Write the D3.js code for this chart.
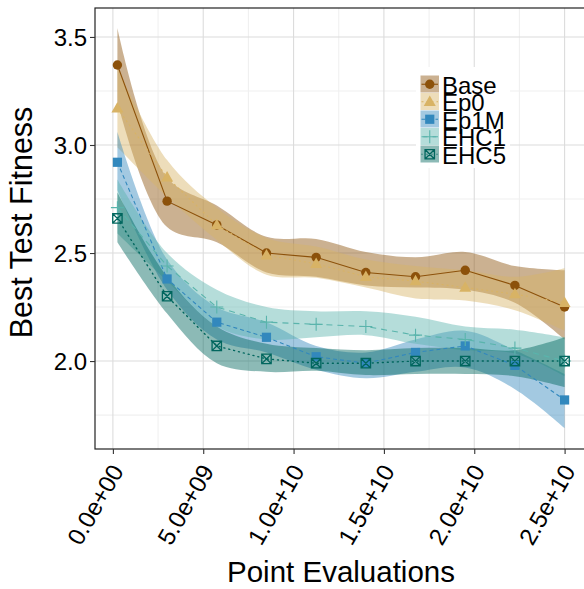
<!DOCTYPE html>
<html>
<head>
<meta charset="utf-8">
<script src="https://cdn.jsdelivr.net/npm/d3@7"></script>
<style>
  html, body { margin: 0; padding: 0; background: #fff; }
  svg { display: block; font-family: "Liberation Sans", Arial, Helvetica, sans-serif; }
</style>
</head>
<body>
<svg id="chart" width="584" height="589"></svg>
<script>
// Point evaluations at which the best test fitness was recorded
const evals = [0.25e9, 3.0e9, 5.75e9, 8.5e9, 11.25e9, 14.0e9, 16.75e9, 19.5e9, 22.25e9, 25.0e9];

// Mean best test fitness per configuration
const baseMean = [3.37, 2.74, 2.63, 2.50, 2.48, 2.41, 2.39, 2.42, 2.35, 2.25];
const ep0Mean  = [3.17, 2.85, 2.63, 2.49, 2.45, 2.39, 2.37, 2.34, 2.31, 2.27];
const ep1mMean = [2.92, 2.38, 2.18, 2.11, 2.02, 1.99, 2.04, 2.07, 1.98, 1.82];
const ehc1Mean = [2.71, 2.44, 2.25, 2.18, 2.17, 2.16, 2.12, 2.10, 2.06, 2.00];
const ehc5Mean = [2.66, 2.30, 2.07, 2.01, 1.99, 1.99, 2.00, 2.00, 2.00, 2.00];

// Confidence band bounds per configuration
const baseLo = [3.20, 2.62, 2.55, 2.41, 2.39, 2.35, 2.34, 2.33, 2.27, 2.10];
const baseHi = [3.54, 2.85, 2.72, 2.575, 2.565, 2.505, 2.48, 2.505, 2.44, 2.42];
const ep0Lo  = [2.99, 2.76, 2.56, 2.40, 2.385, 2.34, 2.29, 2.28, 2.235, 2.14];
const ep0Hi  = [3.36, 2.93, 2.71, 2.57, 2.53, 2.47, 2.44, 2.42, 2.39, 2.43];
const ep1mLo = [2.79, 2.33, 2.10, 2.04, 1.96, 1.92, 1.95, 1.97, 1.87, 1.69];
const ep1mHi = [3.06, 2.47, 2.25, 2.18, 2.07, 2.04, 2.10, 2.14, 2.05, 1.94];
const ehc1Lo = [2.59, 2.37, 2.16, 2.10, 2.11, 2.12, 2.08, 2.05, 2.035, 1.93];
const ehc1Hi = [2.84, 2.50, 2.33, 2.25, 2.23, 2.23, 2.205, 2.16, 2.145, 2.11];
const ehc5Lo = [2.55, 2.22, 1.99, 1.95, 1.955, 1.935, 1.94, 1.94, 1.93, 1.88];
const ehc5Hi = [2.78, 2.39, 2.16, 2.08, 2.06, 2.05, 2.06, 2.06, 2.05, 2.11];

const seriesNames = ["Base", "Ep0", "Ep1M", "EHC1", "EHC5"];
const seriesColors = ["#8c510a", "#d8b365", "#3288bd", "#5ab4ac", "#01665e"];

const xTicks = [0, 5e9, 1e10, 1.5e10, 2e10, 2.5e10];
const xTickLabels = ["0.0e+00", "5.0e+09", "1.0e+10", "1.5e+10", "2.0e+10", "2.5e+10"];
const yTicks = [2.0, 2.5, 3.0, 3.5];
const yTickLabels = ["2.0", "2.5", "3.0", "3.5"];

const series = [
  { name: seriesNames[0], color: seriesColors[0], mean: baseMean, lo: baseLo, hi: baseHi, shape: "circle",   dash: null },
  { name: seriesNames[1], color: seriesColors[1], mean: ep0Mean,  lo: ep0Lo,  hi: ep0Hi,  shape: "triangle", dash: "2,3" },
  { name: seriesNames[2], color: seriesColors[2], mean: ep1mMean, lo: ep1mLo, hi: ep1mHi, shape: "square",   dash: "4,3" },
  { name: seriesNames[3], color: seriesColors[3], mean: ehc1Mean, lo: ehc1Lo, hi: ehc1Hi, shape: "plus",     dash: "6,5" },
  { name: seriesNames[4], color: seriesColors[4], mean: ehc5Mean, lo: ehc5Lo, hi: ehc5Hi, shape: "boxx",     dash: "1,4" }
];

const svg = d3.select("#chart");
const panel = { left: 95, top: 8, right: 587, bottom: 449 };

const x = d3.scaleLinear().domain([-0.99e9, 26.24e9]).range([panel.left, panel.right]);
const y = d3.scaleLinear().domain([1.593, 3.634]).range([panel.bottom, panel.top]);

// Clip region for the plotting panel
svg.append("defs").append("clipPath").attr("id", "panelClip")
  .append("rect")
  .attr("x", panel.left).attr("y", panel.top)
  .attr("width", panel.right - panel.left).attr("height", panel.bottom - panel.top);

// Gridlines
const grid = svg.append("g");
const xMinor = [2.5e9, 7.5e9, 1.25e10, 1.75e10, 2.25e10];
const yMinor = [1.75, 2.25, 2.75, 3.25];
grid.selectAll(".xminor").data(xMinor).enter().append("line")
  .attr("x1", d => x(d)).attr("x2", d => x(d))
  .attr("y1", panel.top).attr("y2", panel.bottom)
  .attr("stroke", "#f0f0f0").attr("stroke-width", 1.1);
grid.selectAll(".yminor").data(yMinor).enter().append("line")
  .attr("y1", d => y(d)).attr("y2", d => y(d))
  .attr("x1", panel.left).attr("x2", panel.right)
  .attr("stroke", "#f0f0f0").attr("stroke-width", 1.1);
grid.selectAll(".xmajor").data(xTicks).enter().append("line")
  .attr("x1", d => x(d)).attr("x2", d => x(d))
  .attr("y1", panel.top).attr("y2", panel.bottom)
  .attr("stroke", "#dcdcdc").attr("stroke-width", 1.1);
grid.selectAll(".ymajor").data(yTicks).enter().append("line")
  .attr("y1", d => y(d)).attr("y2", d => y(d))
  .attr("x1", panel.left).attr("x2", panel.right)
  .attr("stroke", "#dcdcdc").attr("stroke-width", 1.1);

const plot = svg.append("g").attr("clip-path", "url(#panelClip)");

// Confidence bands
const band = d3.area()
  .x(d => x(d.x)).y0(d => y(d.lo)).y1(d => y(d.hi))
  .curve(d3.curveCatmullRom.alpha(0.5));
series.forEach(s => {
  const pts = evals.map((e, i) => ({ x: e, lo: s.lo[i], hi: s.hi[i] }));
  plot.append("path").datum(pts)
    .attr("d", band)
    .attr("fill", s.color).attr("fill-opacity", 0.45);
});

// Mean lines
const meanLine = d3.line().x(d => x(d.x)).y(d => y(d.y));
series.forEach(s => {
  const pts = evals.map((e, i) => ({ x: e, y: s.mean[i] }));
  plot.append("path").datum(pts)
    .attr("d", meanLine)
    .attr("fill", "none")
    .attr("stroke", s.color)
    .attr("stroke-width", s.shape === "boxx" ? 1.4 : 1.1)
    .attr("stroke-linecap", s.shape === "boxx" ? "round" : "butt")
    .attr("stroke-dasharray", s.dash);
});

// Marker drawing
function drawMarker(g, shape, color, cx, cy) {
  if (shape === "circle") {
    g.append("circle").attr("cx", cx).attr("cy", cy).attr("r", 4.7).attr("fill", color);
  } else if (shape === "triangle") {
    const h = 10.5, w = 12;
    g.append("path")
      .attr("d", `M${cx},${cy - h * 0.6}L${cx + w / 2},${cy + h * 0.4}L${cx - w / 2},${cy + h * 0.4}Z`)
      .attr("fill", color);
  } else if (shape === "square") {
    const a = 9.2;
    g.append("rect").attr("x", cx - a / 2).attr("y", cy - a / 2)
      .attr("width", a).attr("height", a).attr("fill", color);
  } else if (shape === "plus") {
    const a = 6.5;
    g.append("path")
      .attr("d", `M${cx - a},${cy}H${cx + a}M${cx},${cy - a}V${cy + a}`)
      .attr("stroke", color).attr("stroke-width", 1.1).attr("fill", "none");
  } else if (shape === "boxx") {
    const a = 4.7;
    g.append("path")
      .attr("d", `M${cx - a},${cy - a}H${cx + a}V${cy + a}H${cx - a}Z` +
                 `M${cx - a},${cy - a}L${cx + a},${cy + a}M${cx + a},${cy - a}L${cx - a},${cy + a}`)
      .attr("stroke", color).attr("stroke-width", 1.3).attr("fill", "none");
  }
}

series.forEach(s => {
  const g = plot.append("g");
  evals.forEach((e, i) => drawMarker(g, s.shape, s.color, x(e), y(s.mean[i])));
});

// Panel border (left, top, bottom visible)
svg.append("rect")
  .attr("x", panel.left).attr("y", panel.top)
  .attr("width", panel.right - panel.left).attr("height", panel.bottom - panel.top)
  .attr("fill", "none").attr("stroke", "#222").attr("stroke-width", 1.2);

// Axes
const yAxis = d3.axisLeft(y).tickValues(yTicks).tickFormat((d, i) => yTickLabels[i])
  .tickSize(5).tickPadding(3);
const yg = svg.append("g").attr("transform", `translate(${panel.left},0)`).call(yAxis);
yg.select(".domain").remove();
yg.selectAll(".tick line").attr("stroke", "#333").attr("stroke-width", 1.1);
yg.selectAll(".tick text").attr("font-size", 24).attr("fill", "#000")
  .attr("font-family", "Liberation Sans, Arial, sans-serif").attr("dy", "0.35em");

const xAxis = d3.axisBottom(x).tickValues(xTicks).tickFormat((d, i) => xTickLabels[i])
  .tickSize(5);
const xg = svg.append("g").attr("transform", `translate(0,${panel.bottom})`).call(xAxis);
xg.select(".domain").remove();
xg.selectAll(".tick line").attr("stroke", "#333").attr("stroke-width", 1.1);
xg.selectAll(".tick text")
  .attr("font-size", 24).attr("fill", "#000")
  .attr("font-family", "Liberation Sans, Arial, sans-serif")
  .attr("text-anchor", "end")
  .attr("y", 0).attr("dy", 0)
  .attr("transform", "translate(11,22) rotate(-60)");

// Axis titles
svg.append("text")
  .attr("x", (panel.left + panel.right) / 2).attr("y", 582)
  .attr("text-anchor", "middle").attr("font-size", 29.5).attr("fill", "#000")
  .text("Point Evaluations");
svg.append("text")
  .attr("transform", `translate(32,${(panel.top + panel.bottom) / 2 - 6}) rotate(-90)`)
  .attr("text-anchor", "middle").attr("font-size", 30.5).attr("fill", "#000")
  .text("Best Test Fitness");

// Legend
const legend = svg.append("g");
legend.append("rect").attr("x", 416).attr("y", 67).attr("width", 94).attr("height", 101).attr("fill", "#fff");
const keyX = 420.5, keyW = 18.5, keyY0 = 75.5, keyH = 17.5;
series.forEach((s, i) => {
  const ky = keyY0 + i * keyH;
  const cy = ky + keyH / 2, cx = keyX + keyW / 2;
  legend.append("rect").attr("x", keyX).attr("y", ky).attr("width", keyW).attr("height", keyH - 0.5)
    .attr("fill", s.color).attr("fill-opacity", 0.45);
  legend.append("line").attr("x1", keyX + 1).attr("x2", keyX + keyW - 1)
    .attr("y1", cy).attr("y2", cy)
    .attr("stroke", s.color).attr("stroke-width", 1.1).attr("stroke-dasharray", s.dash);
  drawMarker(legend, s.shape, s.color, cx, cy);
  legend.append("text").attr("x", 442).attr("y", cy + 9.5)
    .attr("font-size", 24).attr("fill", "#000").text(s.name);
});
</script>
</body>
</html>
